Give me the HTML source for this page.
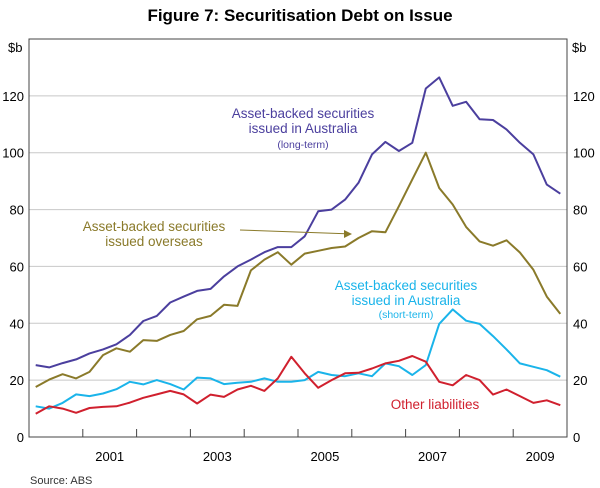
<!DOCTYPE html>
<html><head><meta charset="utf-8"><style>
body{margin:0;background:#fff;}
svg{display:block;font-family:"Liberation Sans",Arial,sans-serif;}
</style></head><body>
<svg id="chart" width="600" height="488" viewBox="0 0 600 488">
<text x="300" y="21" text-anchor="middle" font-weight="bold" font-size="17">Figure 7: Securitisation Debt on Issue</text>
<g id="grid"></g>
<g id="axes"></g>
<g id="series"></g>
<g font-size="13.5">
<text x="303" y="118" text-anchor="middle" fill="#4b3f9e">Asset-backed securities</text>
<text x="303" y="133" text-anchor="middle" fill="#4b3f9e">issued in Australia</text>
<text x="303" y="148" text-anchor="middle" fill="#4b3f9e" font-size="10.5">(long-term)</text>
<text x="154" y="231" text-anchor="middle" fill="#8a7a2a">Asset-backed securities</text>
<text x="154" y="246" text-anchor="middle" fill="#8a7a2a">issued overseas</text>
<line x1="240" y1="230" x2="346" y2="233.8" stroke="#8a7a2a" stroke-width="1"/>
<polygon points="352,234 344,230 344,238" fill="#8a7a2a"/>
<text x="406" y="290" text-anchor="middle" fill="#1ab4ea">Asset-backed securities</text>
<text x="406" y="305" text-anchor="middle" fill="#1ab4ea">issued in Australia</text>
<text x="406" y="318" text-anchor="middle" fill="#1ab4ea" font-size="10.5">(short-term)</text>
<text x="435" y="409" text-anchor="middle" fill="#d0202e">Other liabilities</text>
</g>
<text x="30" y="484" font-size="11" fill="#333">Source:  ABS</text>
</svg>
<script>
const yTicks=[0,20,40,60,80,100,120];
const yearLabels=["2001","2003","2005","2007","2009"];
const longTerm=[25.3,24.5,26,27.3,29.4,30.8,32.6,35.9,40.8,42.6,47.3,49.4,51.4,52.1,56.5,60,62.4,65,66.8,66.8,70.6,79.4,80,83.5,89.4,99.4,103.8,100.6,103.5,122.6,126.5,116.5,117.9,111.8,111.5,108.2,103.5,99.4,88.8,85.6];
const overseas=[17.6,20.2,22.1,20.6,22.9,28.8,31.2,30,34.1,33.8,35.9,37.3,41.4,42.6,46.5,46.1,58.6,62.4,65,60.6,64.5,65.5,66.5,67,70,72.4,72,81.2,90.6,100,87.6,81.8,73.9,68.8,67.3,69.2,64.9,58.8,49.4,43.3];
const shortTerm=[10.8,10,12,15,14.4,15.3,16.8,19.4,18.5,20,18.6,16.7,20.9,20.6,18.6,19.1,19.4,20.6,19.4,19.4,20,22.9,21.8,21.4,22.4,21.4,25.9,24.9,21.8,25.3,39.8,44.9,40.9,39.8,35.5,30.8,25.9,24.7,23.5,21.2];
const other=[8.2,10.8,10,8.5,10.2,10.6,10.8,12.1,13.8,15,16.2,15,11.8,14.9,14.1,16.7,18,16.2,20.6,28.2,22.4,17.3,20,22.4,22.6,24.1,25.9,26.8,28.5,26.5,19.4,18.2,21.8,20,14.9,16.7,14.4,12,12.9,11.2];
const NS="http://www.w3.org/2000/svg";
const L=29,R=567,T=39,B=437,yMax=140;
const y=v=>B-(v/yMax)*(B-T);
const xYear=t=>L+(t-2000)*(R-L)/10;
const xIdx=i=>xYear(2000+0.125+i*0.25);
function mk(tag,attrs,parent){const e=document.createElementNS(NS,tag);for(const k in attrs)e.setAttribute(k,attrs[k]);parent.appendChild(e);return e;}
const grid=document.getElementById('grid'),axes=document.getElementById('axes'),series=document.getElementById('series');
yTicks.forEach(v=>{
 if(v>0){const g=mk('line',{x1:L,x2:R,y1:y(v),y2:y(v),stroke:'#c8c8c8','stroke-width':1},grid);
 
 }
 const t1=mk('text',{x:24,y:y(v)+5,'text-anchor':'end','font-size':13},axes);t1.textContent=v;
 
 
 const t2=mk('text',{x:573,y:y(v)+5,'font-size':13},axes);t2.textContent=v;
 
 
});
[[8,'left'],[572,'right']].forEach(([xx,s])=>{const t=mk('text',{x:xx,y:52,'font-size':13},axes);t.textContent='$b';
 
 });
const frame=mk('rect',{x:L,y:T,width:R-L,height:B-T,fill:'none',stroke:'#444','stroke-width':1},axes);


for(let yr=2001;yr<=2009;yr++){const tk=mk('line',{x1:xYear(yr),x2:xYear(yr),y1:B,y2:B-8,stroke:'#444'},axes);
 
 }
yearLabels.forEach(lb=>{const t=mk('text',{x:xYear(+lb+0.5),y:461,'text-anchor':'middle','font-size':13},axes);t.textContent=lb;
 
 });
[[longTerm,'#4b3f9e','line-long-term'],[overseas,'#8a7a2a','line-overseas'],[shortTerm,'#1ab4ea','line-short-term'],[other,'#d0202e','line-other-liabilities']].forEach(([d,c,n])=>{
 const p=mk('polyline',{points:d.map((v,i)=>xIdx(i).toFixed(1)+','+y(v).toFixed(1)).join(' '),fill:'none',stroke:c,'stroke-width':2,'stroke-linejoin':'round'},series);
 
 
});
</script>
</body></html>
